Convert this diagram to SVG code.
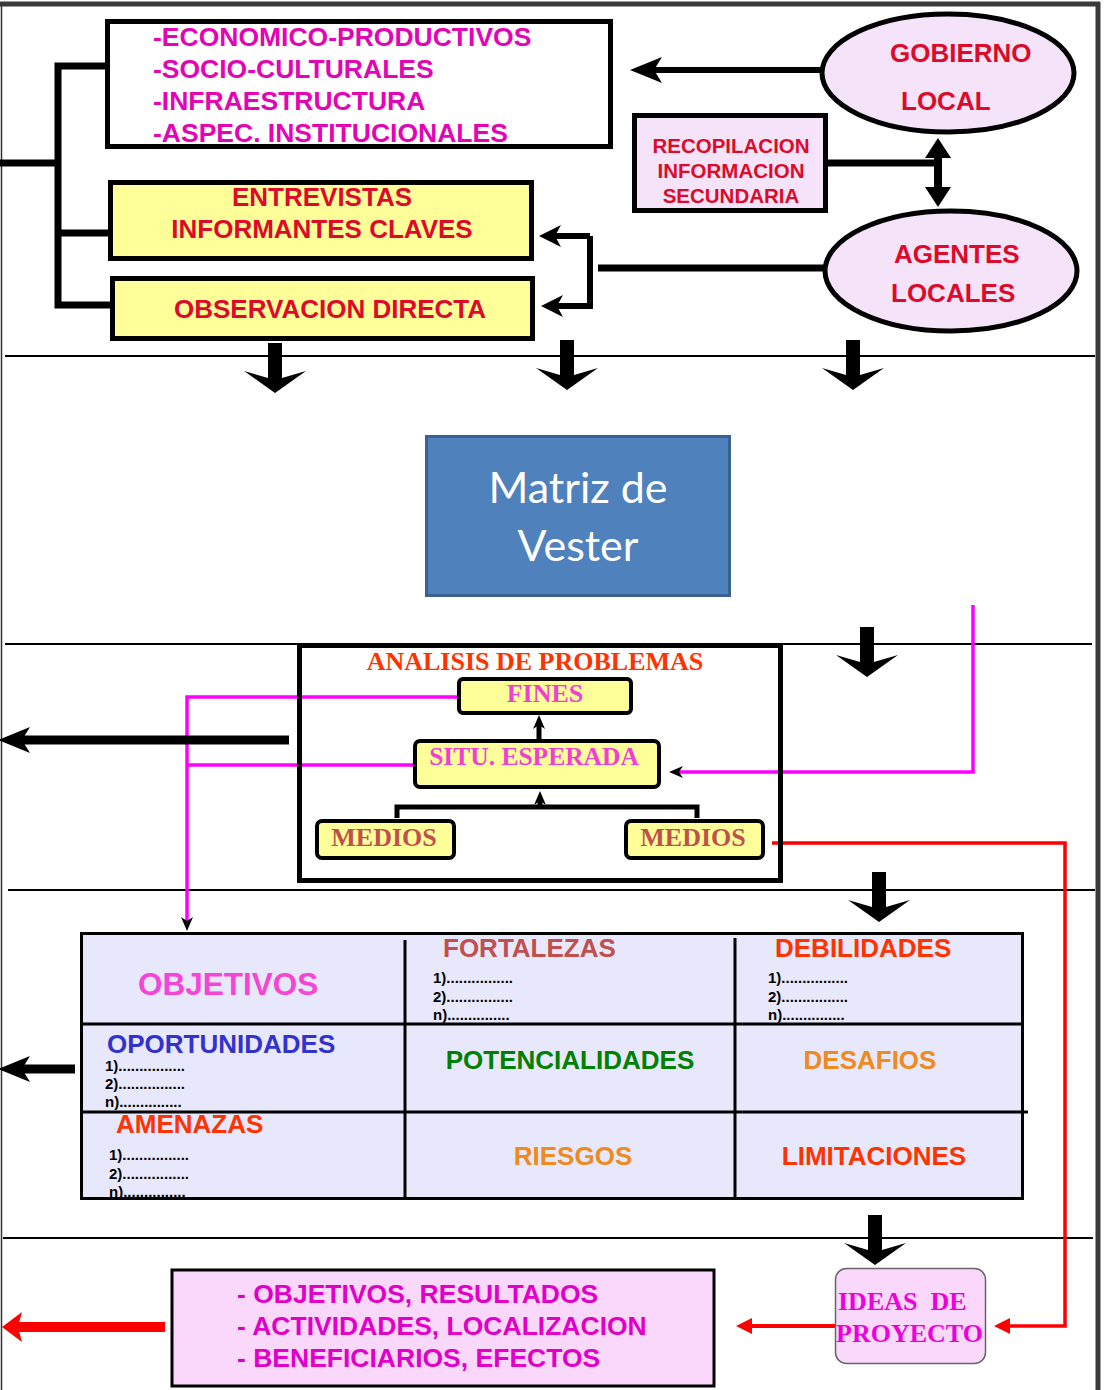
<svg xmlns="http://www.w3.org/2000/svg" width="1105" height="1390" viewBox="0 0 1105 1390">
<style>
.sans{font-family:"Liberation Sans",Arial,sans-serif;font-weight:bold}
.serif{font-family:"Liberation Serif","Times New Roman",serif;font-weight:bold}
.box{stroke:#000;stroke-width:5}
.sep{stroke:#000;stroke-width:2;fill:none}
.thick{stroke:#000;stroke-width:7;fill:none}
.mag{stroke:#ff00ff;stroke-width:3.5;fill:none}
.red{stroke:#ff0000;stroke-width:3.5;fill:none}
.list{font-family:"Liberation Sans",Arial,sans-serif;font-weight:bold;font-size:15px;fill:#000}
.cell{font-family:"Liberation Sans",Arial,sans-serif;font-weight:bold;font-size:26px}
.big{font-size:31.5px}
</style>
<defs>
<marker id="stealth" markerUnits="userSpaceOnUse" markerWidth="32" markerHeight="26" viewBox="0 0 32 26" refX="8" refY="13" orient="auto">
<path d="M0,0 L32,13 L0,26 L8,13 Z" fill="#000"/>
</marker>
<marker id="stealthS" markerUnits="userSpaceOnUse" markerWidth="22" markerHeight="22" viewBox="0 0 22 22" refX="6" refY="11" orient="auto">
<path d="M0,0 L22,11 L0,22 L6,11 Z" fill="#000"/>
</marker>
<marker id="tiny" markerUnits="userSpaceOnUse" markerWidth="14" markerHeight="12" viewBox="0 0 14 12" refX="4" refY="6" orient="auto">
<path d="M0,0 L14,6 L0,12 L4,6 Z" fill="#000"/>
</marker>
<marker id="tri" markerUnits="userSpaceOnUse" markerWidth="20" markerHeight="26" viewBox="0 0 20 26" refX="1" refY="13" orient="auto">
<path d="M0,0 L20,13 L0,26 Z" fill="#000"/>
</marker>
<marker id="redtri" markerUnits="userSpaceOnUse" markerWidth="16" markerHeight="16" viewBox="0 0 16 16" refX="1" refY="8" orient="auto">
<path d="M0,0 L16,8 L0,16 Z" fill="#ff0000"/>
</marker>
<marker id="redbig" markerUnits="userSpaceOnUse" markerWidth="20" markerHeight="30" viewBox="0 0 20 30" refX="4" refY="15" orient="auto">
<path d="M0,0 L20,15 L0,30 L4,15 Z" fill="#ff0000"/>
</marker>
<path id="bigdown" d="M-7,-50 H7 V-15 L31,-22 L0,0 L-31,-22 L-7,-15 Z" fill="#000"/>
</defs>

<rect width="1105" height="1390" fill="#fff"/>

<!-- frame -->
<g id="frame">
<line x1="0" y1="4" x2="1100" y2="4" stroke="#3a3a3a" stroke-width="5"/>
<line x1="1098" y1="2" x2="1098" y2="1390" stroke="#3a3a3a" stroke-width="5"/>
<line x1="1.5" y1="4" x2="1.5" y2="1390" stroke="#333" stroke-width="1.5"/>
<line class="sep" x1="5" y1="356" x2="1095" y2="356"/>
<line class="sep" x1="5" y1="644" x2="1092" y2="644"/>
<line class="sep" x1="8" y1="890" x2="1095" y2="890"/>
<line class="sep" x1="3" y1="1238" x2="1093" y2="1238"/>
</g>

<!-- connectors -->
<g id="connectors">
<path class="thick" d="M105,66 H58 V305 H110 M58,233 H108 M58,163 H0"/>
<line x1="822" y1="70" x2="654" y2="70" stroke="#000" stroke-width="6" marker-end="url(#stealth)"/>
<line x1="598" y1="268" x2="825" y2="268" stroke="#000" stroke-width="7"/>
<path d="M590,236 H555" stroke="#000" stroke-width="6" fill="none" marker-end="url(#stealthS)"/>
<path d="M590,236 V306 H557" stroke="#000" stroke-width="6" fill="none" marker-end="url(#stealthS)"/>
<line x1="828" y1="163" x2="938" y2="163" stroke="#000" stroke-width="7"/>
<line x1="938" y1="175" x2="938" y2="157" stroke="#000" stroke-width="8" marker-end="url(#tri)"/>
<line x1="938" y1="170" x2="938" y2="188" stroke="#000" stroke-width="8" marker-end="url(#tri)"/>
<use href="#bigdown" x="275" y="393"/>
<use href="#bigdown" x="567" y="390"/>
<use href="#bigdown" x="853" y="390"/>
<use href="#bigdown" x="867" y="677"/>
<use href="#bigdown" x="879" y="922"/>
<use href="#bigdown" x="875" y="1265"/>
<path class="mag" d="M973,605 V772 H679" marker-end="url(#tiny)"/>
<path class="mag" d="M458,697 H187 V921" marker-end="url(#tiny)"/>
<path class="mag" d="M414,765 H187"/>
<line x1="289" y1="740" x2="22" y2="740" stroke="#000" stroke-width="9" marker-end="url(#stealth)"/>
<line x1="75" y1="1069" x2="22" y2="1069" stroke="#000" stroke-width="9" marker-end="url(#stealth)"/>
<line x1="539" y1="740" x2="539" y2="725" stroke="#000" stroke-width="5" marker-end="url(#tiny)"/>
<path d="M397,818 V807 H697 V818" stroke="#000" stroke-width="5" fill="none"/>
<line x1="540" y1="807" x2="540" y2="801" stroke="#000" stroke-width="5" marker-end="url(#tiny)"/>
<path class="red" d="M772,843 H1065 V1326 H1009" marker-end="url(#redtri)"/>
<line x1="835" y1="1326" x2="751" y2="1326" stroke="#ff0000" stroke-width="4" marker-end="url(#redtri)"/>
<line x1="165" y1="1327" x2="18" y2="1327" stroke="#ff0000" stroke-width="10" marker-end="url(#redbig)"/>
</g>

<!-- nodes -->
<g id="node-aspectos">
<rect class="box" x="107.5" y="21.5" width="503" height="125" fill="#fff"/>
<g class="sans" font-size="26.5" fill="#e305b5">
<text x="153" y="46">-ECONOMICO-PRODUCTIVOS</text>
<text x="153" y="78">-SOCIO-CULTURALES</text>
<text x="153" y="110">-INFRAESTRUCTURA</text>
<text x="153" y="142">-ASPEC. INSTITUCIONALES</text>
</g>
</g>

<g id="node-entrevistas">
<rect class="box" x="110.5" y="182.5" width="421" height="76" fill="#ffff99"/>
<g class="sans" font-size="26" fill="#dd0a2a" text-anchor="middle">
<text x="322" y="206">ENTREVISTAS</text>
<text x="322" y="238">INFORMANTES CLAVES</text>
</g>
</g>

<g id="node-observacion">
<rect class="box" x="112.5" y="278.5" width="420" height="60" fill="#ffff99"/>
<text class="sans" font-size="26" fill="#dd0a2a" text-anchor="middle" x="330" y="318">OBSERVACION DIRECTA</text>
</g>

<g id="node-gobierno">
<ellipse cx="948" cy="73" rx="126" ry="59" fill="#f5e3fa" stroke="#000" stroke-width="5"/>
<g class="sans" font-size="26" fill="#dd0a2a">
<text x="890" y="62">GOBIERNO</text>
<text x="901" y="110">LOCAL</text>
</g>
</g>

<g id="node-recopilacion">
<rect class="box" x="634.5" y="115.5" width="191" height="95" fill="#f5e3fa"/>
<g class="sans" font-size="20.5" fill="#dd0a2a" text-anchor="middle">
<text x="731" y="153">RECOPILACION</text>
<text x="731" y="178">INFORMACION</text>
<text x="731" y="203">SECUNDARIA</text>
</g>
</g>

<g id="node-agentes">
<ellipse cx="951" cy="271" rx="126" ry="60" fill="#f5e3fa" stroke="#000" stroke-width="5"/>
<g class="sans" font-size="26" fill="#dd0a2a">
<text x="894" y="263">AGENTES</text>
<text x="891" y="302">LOCALES</text>
</g>
</g>

<g id="node-vester">
<rect x="426.5" y="436.5" width="303" height="159" fill="#4f81bd" stroke="#3b6190" stroke-width="3"/>
<g font-family="Lato,'Open Sans',sans-serif" font-size="43" fill="#fff" text-anchor="middle">
<text x="578" y="503">Matriz de</text>
<text x="578" y="561">Vester</text>
</g>
</g>

<g id="node-analisis">
<rect class="box" x="299.5" y="645.5" width="481" height="235" fill="none"/>
<text class="serif" font-size="26" fill="#ff3300" text-anchor="middle" x="535" y="670">ANALISIS DE PROBLEMAS</text>
</g>

<g id="node-fines">
<rect x="459" y="679" width="172" height="34" rx="4" fill="#ffff99" stroke="#000" stroke-width="4"/>
<text class="serif" font-size="26" fill="#f23fd2" text-anchor="middle" x="545" y="702">FINES</text>
</g>

<g id="node-situ">
<rect x="415" y="741" width="244" height="46" rx="5" fill="#ffff99" stroke="#000" stroke-width="4"/>
<text class="serif" font-size="25.5" fill="#f23fd2" text-anchor="middle" x="534" y="765">SITU. ESPERADA</text>
</g>

<g id="node-medios1">
<rect x="317" y="821" width="137" height="37" rx="5" fill="#ffff99" stroke="#000" stroke-width="4"/>
<text class="serif" font-size="26" fill="#c0504d" text-anchor="middle" x="384" y="846">MEDIOS</text>
</g>

<g id="node-medios2">
<rect x="626" y="821" width="137" height="37" rx="5" fill="#ffff99" stroke="#000" stroke-width="4"/>
<text class="serif" font-size="26" fill="#c0504d" text-anchor="middle" x="693" y="846">MEDIOS</text>
</g>

<g id="node-foda">
<rect x="81.5" y="933.5" width="941" height="265" fill="#e8e8fc" stroke="#000" stroke-width="3"/>
<line x1="405" y1="940" x2="405" y2="1199" stroke="#000" stroke-width="3"/>
<line x1="735" y1="938" x2="735" y2="1199" stroke="#000" stroke-width="3"/>
<line x1="81" y1="1024" x2="1023" y2="1024" stroke="#000" stroke-width="3"/>
<line x1="83" y1="1112" x2="1028" y2="1112" stroke="#000" stroke-width="3"/>
<text class="cell big" fill="#f545d5" x="138" y="995">OBJETIVOS</text>
<text class="cell" fill="#c0504d" x="443" y="957">FORTALEZAS</text>
<text class="list" x="433" y="983">1)................</text>
<text class="list" x="433" y="1002">2)................</text>
<text class="list" x="433" y="1020">n)...............</text>
<text class="cell" fill="#ff3300" x="775" y="957">DEBILIDADES</text>
<text class="list" x="768" y="983">1)................</text>
<text class="list" x="768" y="1002">2)................</text>
<text class="list" x="768" y="1020">n)...............</text>
<text class="cell" fill="#3333cc" x="107" y="1053">OPORTUNIDADES</text>
<text class="list" x="105" y="1071">1)................</text>
<text class="list" x="105" y="1089">2)................</text>
<text class="list" x="105" y="1107">n)...............</text>
<text class="cell" fill="#008000" text-anchor="middle" x="570" y="1069">POTENCIALIDADES</text>
<text class="cell" fill="#ee8a22" text-anchor="middle" x="870" y="1069">DESAFIOS</text>
<text class="cell" fill="#ff3300" x="116" y="1133">AMENAZAS</text>
<text class="list" x="109" y="1160">1)................</text>
<text class="list" x="109" y="1179">2)................</text>
<text class="list" x="109" y="1197">n)...............</text>
<text class="cell" fill="#ee8a22" text-anchor="middle" x="573" y="1165">RIESGOS</text>
<text class="cell" fill="#ff3300" text-anchor="middle" x="874" y="1165">LIMITACIONES</text>
</g>

<g id="node-ideas">
<rect x="835.5" y="1268.5" width="150" height="95" rx="11" fill="#f9d8fb" stroke="#666" stroke-width="1.5"/>
<g class="serif" font-size="26" fill="#ee00dd">
<text x="838" y="1310" xml:space="preserve">IDEAS  DE</text>
<text x="836" y="1342">PROYECTO</text>
</g>
</g>

<g id="node-resultados">
<rect x="172" y="1270" width="542" height="116" fill="#f9d8fb" stroke="#000" stroke-width="3"/>
<g class="sans" font-size="26.5" fill="#e000c8">
<text x="237" y="1303">- OBJETIVOS, RESULTADOS</text>
<text x="237" y="1335">- ACTIVIDADES, LOCALIZACION</text>
<text x="237" y="1367">- BENEFICIARIOS, EFECTOS</text>
</g>
</g>
</svg>
